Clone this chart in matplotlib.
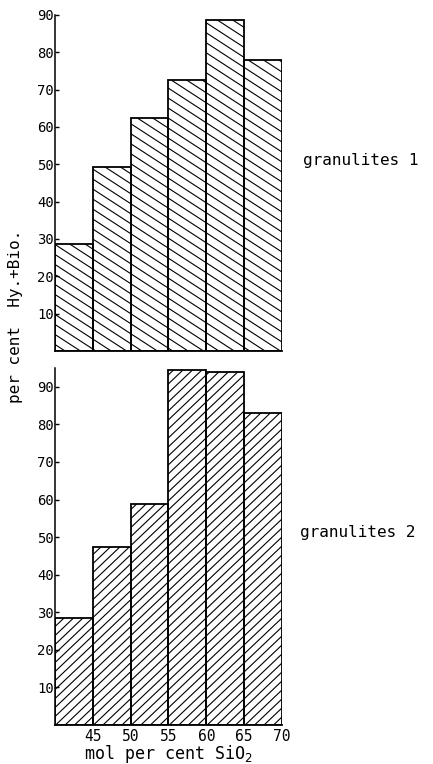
import numpy as np
import matplotlib
matplotlib.use('Agg')
import matplotlib.pyplot as plt
from matplotlib.collections import LineCollection

# SiO2 classes (mol per cent), edges of the 5-unit bins
bin_edges = [40, 45, 50, 55, 60, 65, 70]
x_tick_values = [45, 50, 55, 60, 65, 70]

# per cent Hy + Bio in each SiO2 class
granulites_1 = [28.6, 49.4, 62.4, 72.6, 88.7, 78.0]
granulites_2 = [28.6, 47.3, 58.7, 94.5, 94.0, 82.9]

y_ticks = [10, 20, 30, 40, 50, 60, 70, 80, 90]

FONT = 'DejaVu Sans Mono'
plt.rcParams['font.family'] = FONT

fig = plt.figure(figsize=(4.33, 7.64), dpi=100)
ax_top = fig.add_axes([0.127, 0.5406, 0.524, 0.4398])
ax_bot = fig.add_axes([0.127, 0.0510, 0.524, 0.4673])


def hatch_bars(ax, bars, slope_px, spacing_px, lw=0.8):
    """Draw straight hatch lines (slope given in pixels) clipped to each bar."""
    fig.canvas.draw()
    bb = ax.get_window_extent()
    inv = ax.transData.inverted()
    x0, x1 = bb.x0 - 5, bb.x1 + 5
    span = bb.height + abs(slope_px) * bb.width + 40
    offsets = np.arange(-span, span, abs(spacing_px))
    segs = []
    for c in offsets:
        p0 = (x0, bb.y0 + c + slope_px * (x0 - bb.x0))
        p1 = (x1, bb.y0 + c + slope_px * (x1 - bb.x0))
        segs.append(inv.transform([p0, p1]))
    for bar in bars:
        lc = LineCollection(segs, colors='black', linewidths=lw, zorder=2)
        ax.add_collection(lc, autolim=False)
        lc.set_clip_path(bar)


def draw_panel(ax, values, ymax, slope_px, spacing_px):
    lefts = bin_edges[:-1]
    bars = ax.bar(lefts, values, width=5, align='edge', facecolor='none',
                  edgecolor='black', linewidth=1.3, zorder=3)
    ax.set_xlim(40, 70)
    ax.set_ylim(0, ymax)
    for side in ['top', 'right']:
        ax.spines[side].set_visible(False)
    ax.spines['left'].set_linewidth(1.1)
    ax.spines['bottom'].set_linewidth(1.3)
    ax.set_yticks(y_ticks)
    ax.set_yticklabels([str(v) for v in y_ticks], fontsize=10)
    ax.tick_params(axis='y', direction='in', length=3, width=1.0, pad=1)
    hatch_bars(ax, bars, slope_px, spacing_px)
    return bars


draw_panel(ax_top, granulites_1, 90, -0.65, 10)
ax_top.set_xticks([])

draw_panel(ax_bot, granulites_2, 95, 0.95, 9)
ax_bot.set_xticks(x_tick_values)
ax_bot.set_xticklabels([str(v) for v in x_tick_values], fontsize=10.5)
ax_bot.tick_params(axis='x', length=0, pad=3)
ax_bot.set_xlabel('mol per cent SiO$_2$', fontsize=12, labelpad=-1)

fig.text(0.036, 1 - 316 / 764, 'per cent  Hy.+Bio.', rotation=90,
         ha='center', va='center', fontsize=11.5)
fig.text(303 / 433, 1 - 161 / 764, 'granulites 1', ha='left', va='center',
         fontsize=11.5)
fig.text(300 / 433, 1 - 532 / 764, 'granulites 2', ha='left', va='center',
         fontsize=11.5)

fig.savefig('out.png', dpi=100)
